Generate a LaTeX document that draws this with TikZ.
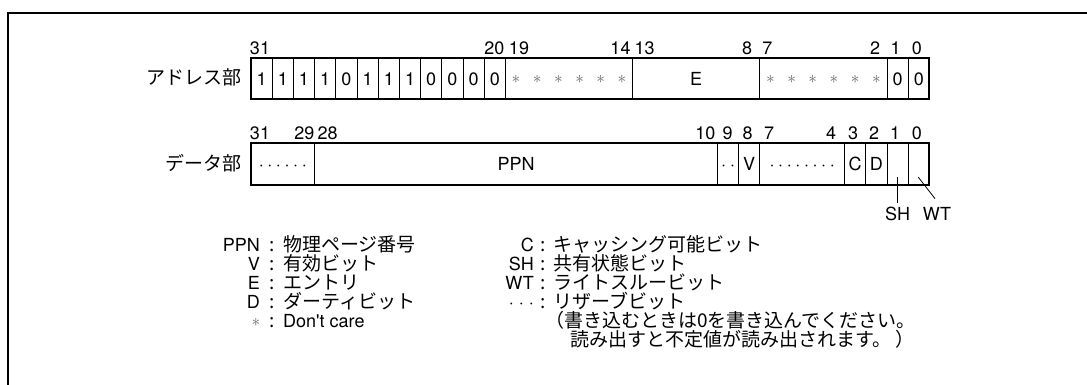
\documentclass[tikz,border=0pt]{standalone}
\usepackage{fontspec}
\newfontfamily\hv{TeX Gyre Heros}
\newfontfamily\jp{Noto Sans CJK JP}
\newcommand\md{\textperiodcentered}
\newcommand\dotsix{\md\kern3.6pt\md\kern3.6pt\md\kern3.6pt\md\kern3.6pt\md\kern3.6pt\md}
\newcommand\doteight{\md\kern3.6pt\md\kern3.6pt\md\kern3.6pt\md\kern3.6pt\md\kern3.6pt\md\kern3.6pt\md\kern3.6pt\md}
\newcommand\dottwo{\md\kern4pt\md}
\newcommand\dotthree{\md\kern5pt\md\kern5pt\md}
\tikzset{
  lat/.style={font=\hv\fontsize{18}{18}\selectfont, inner sep=0pt, anchor=base},
  jap/.style={font=\jp\fontsize{19}{19}\selectfont, inner sep=0pt, anchor=base},
  ast/.style={font=\fontsize{17}{17}\selectfont, text=black!60, inner sep=0pt},
  outerbox/.style={line width=2pt},
  divider/.style={line width=0.8pt},
  frameline/.style={line width=2.5pt},
  callout/.style={line width=0.8pt},
}
\begin{document}
\begin{tikzpicture}[x=1pt,y=-1pt]
\useasboundingbox (0,0) rectangle (1087,385);
\draw[frameline] (8,385) -- (8,13) -- (1087,13);

% row labels
\node[jap, anchor=base east] (addr) at (242,85) {アドレス部};
\node[jap, anchor=base east] (data) at (242,170.5) {データ部};

\begin{scope}[shift={(251pt,0pt)}, x=21.2pt]
  % address row
  \draw[divider] \foreach \i in {1,...,12,18,24,30,31} {(\i,58) -- (\i,99)};
  \draw[outerbox] (0,58) rectangle (32,99);
  \foreach \v [count=\k from 0] in {1,1,1,1,0,1,1,1,0,0,0,0}
    \node[lat] (a\k) at (\k+0.5,86) {\v};
  \foreach \k in {12,13,14,15,16,17,24,25,26,27,28,29}
    \node[ast] (s\k) at (\k+0.5,79.5) {$\ast$};
  \node[lat] (E) at (21,86) {E};
  \node[lat] (a30) at (30.5,86) {0};
  \node[lat] (a31) at (31.5,86) {0};
  \foreach \b/\dx in {31/-1.6,20/-0.5,19/3,14/-1.5,13/1.5,8/-2,7/-3,2/-1.3,1/-2,0/-2}
    \node[lat, xshift=\dx pt] (na\b) at ({31-\b+0.5},54.5) {\b};

  % data row
  \draw[divider] \foreach \i in {3,22,23,24,28,29,30,31} {(\i,143) -- (\i,185)};
  \draw[outerbox] (0,143) rectangle (32,185);
  \node[lat] (d31) at (1.5,171) {\dotsix};
  \node[lat] (PPN) at (12.5,171) {PPN};
  \node[lat] (d9) at (22.5,171) {\dottwo};
  \node[lat] (V) at (23.5,171) {V};
  \node[lat] (d7) at (26,171) {\doteight};
  \node[lat] (C) at (28.5,171) {C};
  \node[lat] (D) at (29.5,171) {D};
  \foreach \b/\dx in {31/-1.6,29/0.3,28/2.5,10/-1.5,9/-0.5,8/-1.7,7/-1.4,4/-3,3/-2,2/-2.4,1/-2.6,0/-2}
    \node[lat, xshift=\dx pt] (nd\b) at ({31-\b+0.5},140) {\b};

  % callouts
  \coordinate (shs) at (30.5,177);
  \coordinate (wts) at (31.47,177);
  \node[lat] (SH) at (30.5,220) {SH};
  \node[lat] (WT) at (32.36,220) {WT};
  \draw[callout] (shs) -- ([yshift=3pt]SH.north);
  \draw[callout] (wts) -- ([shift={(-2pt,8pt)}]WT.north);
\end{scope}

% legend, left column
\node[lat, anchor=base east] (lPPN) at (260,251.5) {PPN};
\node[lat, anchor=base east] (lV) at (260,270.5) {V};
\node[lat, anchor=base east] (lE) at (260,289.5) {E};
\node[lat, anchor=base east] (lD) at (260,308.5) {D};
\node[ast] (lS) at (256,322.5) {$\ast$};
\foreach \y [count=\k] in {251.5,270.5,289.5,308.5,327.5}
  \node[jap] (lc\k) at (272,\y) {:};
\node[jap, anchor=base west] (tPPN) at (283,251.5) {物理ページ番号};
\node[jap, anchor=base west] (tV) at (283,270.5) {有効ビット};
\node[jap, anchor=base west] (tE) at (283,289.5) {エントリ};
\node[jap, anchor=base west] (tD) at (283,308.5) {ダーティビット};
\node[lat, anchor=base west] (tS) at (283,327.5) {Don't care};

% legend, right column
\node[lat, anchor=base east] (rC) at (534,251.5) {C};
\node[lat, anchor=base east] (rSH) at (534,270.5) {SH};
\node[lat, anchor=base east] (rWT) at (534,289.5) {WT};
\node[lat, anchor=base east] (rR) at (534,308.5) {\dotthree};
\foreach \y [count=\k] in {251.5,270.5,289.5,308.5}
  \node[jap] (rc\k) at (543,\y) {:};
\node[jap, anchor=base west] (tC) at (553,251.5) {キャッシング可能ビット};
\node[jap, anchor=base west] (tSH) at (553,270.5) {共有状態ビット};
\node[jap, anchor=base west] (tWT) at (553,289.5) {ライトスルービット};
\node[jap, anchor=base west] (tR) at (553,308.5) {リザーブビット};
\node[jap, anchor=base west] (tR1) at (545,327.5) {（書き込むときは0を書き込んでください。};
\node[jap, anchor=base west] (tR2) at (570,346.5) {読み出すと不定値が読み出されます。\kern4pt）};
\end{tikzpicture}
\end{document}
